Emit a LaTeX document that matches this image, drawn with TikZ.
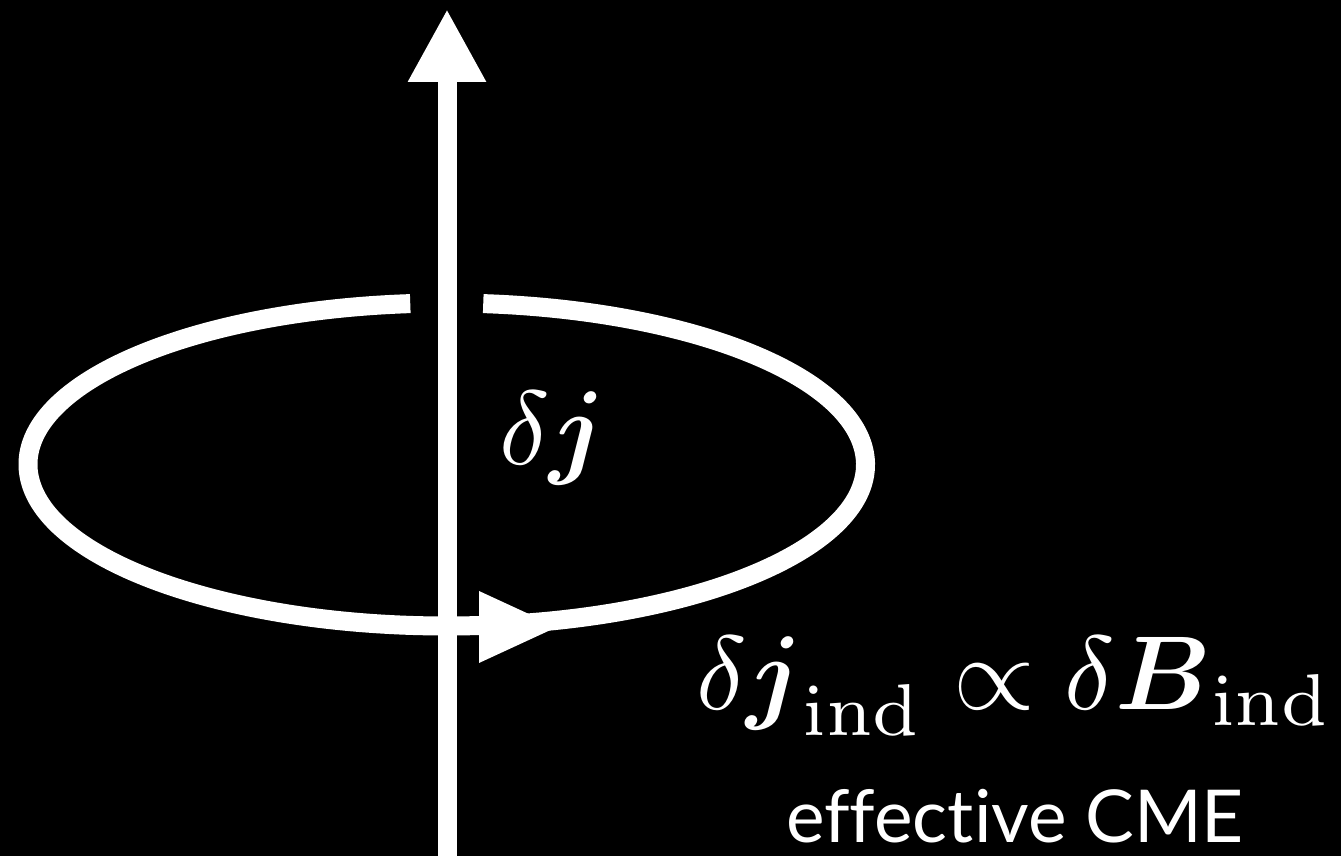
\documentclass[tikz,border=0pt]{standalone}
\usepackage{amsmath}
\usepackage[no-math]{fontspec}
\newfontfamily\labelfont[Ligatures=NoCommon]{Lato}
\usetikzlibrary{arrows.meta,calc}
\tikzset{
  wire/.style={draw=white, line width=19pt},
  mathlabel/.style={text=white, inner sep=0pt, font=\normalsize, scale=10.5, transform shape},
  caption/.style={text=white, inner sep=0pt, font=\labelfont\fontsize{73}{73}\selectfont}
}
\begin{document}
\begin{tikzpicture}[x=1pt,y=1pt]
  \fill[black] (0,0) rectangle (1341,856);
  \useasboundingbox (0,0) rectangle (1341,856);
  % ring with gap at the top
  \coordinate (c) at (446.75,391.5);
  \draw[wire] ($(c)+(95:418.75pt and 161.5pt)$) arc[start angle=95, end angle=445, x radius=418.75pt, y radius=161.5pt];
  % arrowhead on the ring
  \coordinate (ta) at (479,265);
  \coordinate (tb) at (557,229);
  \coordinate (tc) at (479,193);
  \fill[white] (ta) -- (tb) -- (tc) -- cycle;
  % vertical axis
  \coordinate (bot) at (447,0);
  \coordinate (top) at (447,847);
  \draw[wire, -{Triangle[length=73pt,width=73pt]}] (bot) -- (top);
  % labels
  \node[mathlabel, anchor=base west] (dj) at (497,391) {$\delta\boldsymbol{j}$};
  \node[mathlabel, anchor=base west] (rel) at (694,146) {$\delta\boldsymbol{j}_{\mathrm{ind}}\propto\delta\boldsymbol{B}_{\mathrm{ind}}$};
  \node[caption, anchor=base] (cme) at (1015,13) {effective CME};
\end{tikzpicture}
\end{document}
